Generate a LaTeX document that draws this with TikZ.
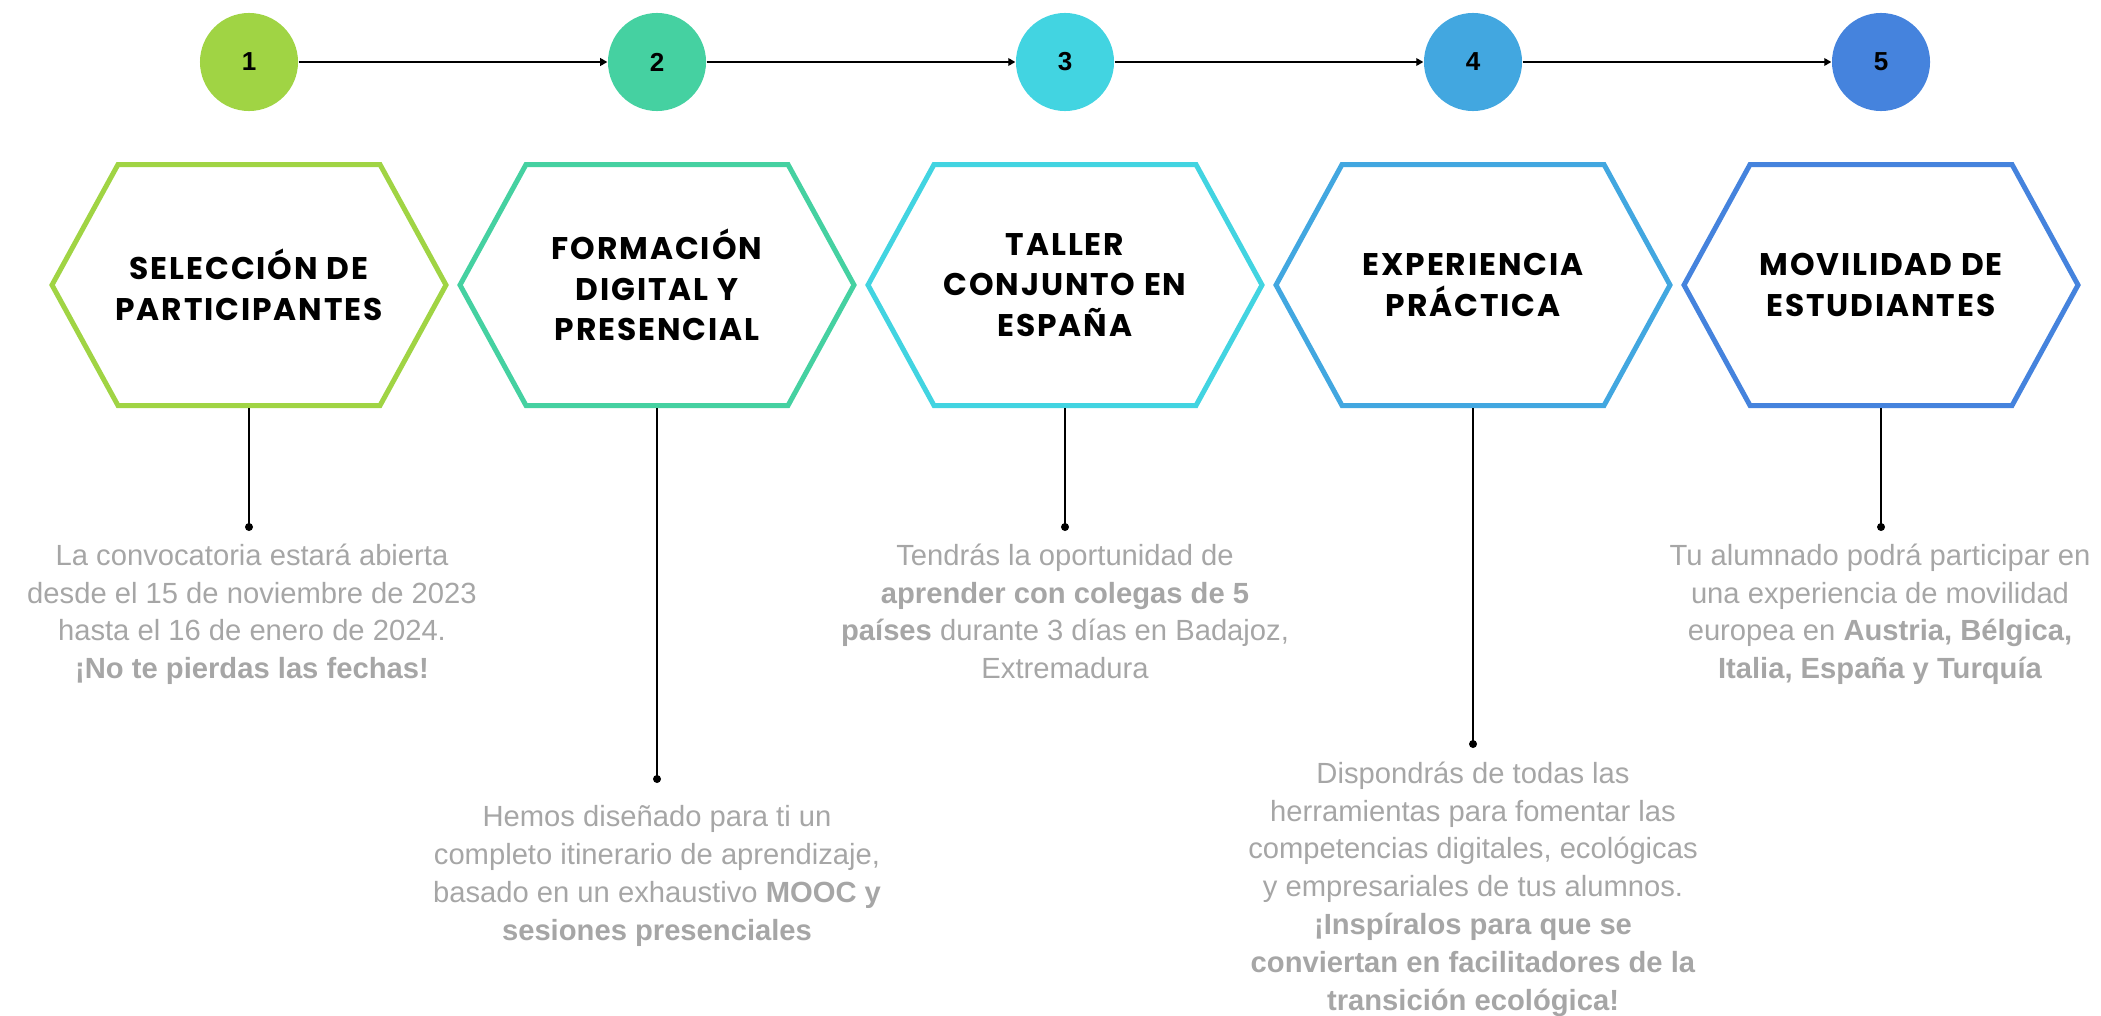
\documentclass[tikz,border=0pt]{standalone}
\usepackage{fontspec}
\setmainfont{Liberation Sans}
\newfontfamily\headfont[LetterSpace=6]{Poppins}
\usetikzlibrary{arrows.meta}

\definecolor{stepone}{HTML}{A0D444}
\definecolor{steptwo}{HTML}{45D1A1}
\definecolor{stepthree}{HTML}{42D4E1}
\definecolor{stepfour}{HTML}{42A7E0}
\definecolor{stepfive}{HTML}{4583DD}
\definecolor{notegray}{HTML}{A6A6A6}

\begin{document}
\begin{tikzpicture}[x=0.01cm,y=-0.01cm]

    \tikzset{
      num/.style={
        circle,
        fill=#1,
        inner sep=0pt,
        minimum size=0.98cm,
        font=\fontsize{7.4}{9}\selectfont\bfseries,
      },
      hexa/.style={draw=#1, line width=1.42pt, line join=miter},
      title/.style={align=center, inner sep=0pt, font=\headfont\fontsize{8.9}{11.5}\selectfont\bfseries},
      note/.style={align=center, anchor=north, inner sep=0pt, text=notegray, font=\fontsize{8.3}{10.75}\selectfont},
      link/.style={-{Triangle[length=2pt,width=2.2pt]}, line width=0.4pt},
      stem/.style={line width=0.45pt},
      dot/.style={circle, fill=black, inner sep=0pt, minimum size=0.08cm},
    }
    \useasboundingbox (0,0) rectangle (2101,1015);

    % numbered circles
    \node[num=stepone] (n1) at (249,62) {1};
    \node[num=steptwo] (n2) at (657,62) {2};
    \node[num=stepthree] (n3) at (1065,62) {3};
    \node[num=stepfour] (n4) at (1473,62) {4};
    \node[num=stepfive] (n5) at (1881,62) {5};
    \draw[link] (n1) -- (n2);
    \draw[link] (n2) -- (n3);
    \draw[link] (n3) -- (n4);
    \draw[link] (n4) -- (n5);

    % hexagons
    \coordinate (h1) at (249,285);
    \coordinate (h2) at (657,285);
    \coordinate (h3) at (1065,285);
    \coordinate (h4) at (1473,285);
    \coordinate (h5) at (1881,285);
    \draw[hexa=stepone] (h1) ++(-197,0) -- ++(66,-120.5) -- ++(262,0) -- ++(66,120.5) -- ++(-66,120.5) -- ++(-262,0) -- cycle;
    \draw[hexa=steptwo] (h2) ++(-197,0) -- ++(66,-120.5) -- ++(262,0) -- ++(66,120.5) -- ++(-66,120.5) -- ++(-262,0) -- cycle;
    \draw[hexa=stepthree] (h3) ++(-197,0) -- ++(66,-120.5) -- ++(262,0) -- ++(66,120.5) -- ++(-66,120.5) -- ++(-262,0) -- cycle;
    \draw[hexa=stepfour] (h4) ++(-197,0) -- ++(66,-120.5) -- ++(262,0) -- ++(66,120.5) -- ++(-66,120.5) -- ++(-262,0) -- cycle;
    \draw[hexa=stepfive] (h5) ++(-197,0) -- ++(66,-120.5) -- ++(262,0) -- ++(66,120.5) -- ++(-66,120.5) -- ++(-262,0) -- cycle;

    \node[title] (s1) at (h1) {SELECCIÓN DE\\PARTICIPANTES};
    \node[title] (s2) at (h2) {FORMACIÓN\\DIGITAL Y\\PRESENCIAL};
    \node[title] (s3) at (h3) {TALLER\\CONJUNTO EN\\ESPAÑA};
    \node[title] (s4) at (h4) {EXPERIENCIA\\PRÁCTICA};
    \node[title] (s5) at (h5) {MOVILIDAD DE\\ESTUDIANTES};

    % stems down to the notes
    \coordinate (b1) at (249,408);
    \coordinate (b2) at (657,408);
    \coordinate (b3) at (1065,408);
    \coordinate (b4) at (1473,408);
    \coordinate (b5) at (1881,408);
    \node[dot] (d1) at (249,527) {};
    \node[dot] (d2) at (657,779) {};
    \node[dot] (d3) at (1065,527) {};
    \node[dot] (d4) at (1473,744) {};
    \node[dot] (d5) at (1881,527) {};
    \draw[stem] (b1) -- (d1.center);
    \draw[stem] (b2) -- (d2.center);
    \draw[stem] (b3) -- (d3.center);
    \draw[stem] (b4) -- (d4.center);
    \draw[stem] (b5) -- (d5.center);

    \node[note] (t1) at (252,543) {La convocatoria estará abierta\\desde el 15 de noviembre de 2023\\hasta el 16 de enero de 2024.\\\textbf{¡No te pierdas las fechas!}};
    \node[note] (t2) at (657,805) {Hemos diseñado para ti un\\completo itinerario de aprendizaje,\\basado en un exhaustivo \textbf{MOOC y}\\\textbf{sesiones presenciales}};
    \node[note] (t3) at (1065,543) {Tendrás la oportunidad de\\\textbf{aprender con colegas de 5}\\\textbf{países} durante 3 días en Badajoz,\\Extremadura};
    \node[note] (t4) at (1473,761) {Dispondrás de todas las\\herramientas para fomentar las\\competencias digitales, ecológicas\\y empresariales de tus alumnos.\\\textbf{¡Inspíralos para que se}\\\textbf{conviertan en facilitadores de la}\\\textbf{transición ecológica!}};
    \node[note] (t5) at (1880,543) {Tu alumnado podrá participar en\\una experiencia de movilidad\\europea en \textbf{Austria, Bélgica,}\\\textbf{Italia, España y Turquía}};

\end{tikzpicture}
\end{document}
